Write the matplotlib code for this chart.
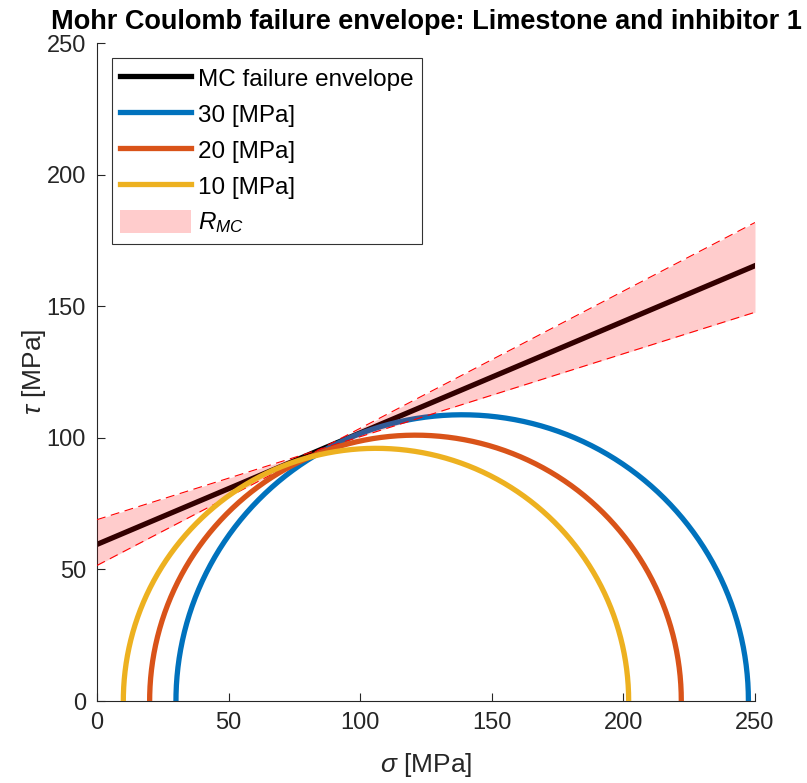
import numpy as np
import matplotlib
matplotlib.use("Agg")
import matplotlib.pyplot as plt

plt.rcParams['font.family'] = ['Liberation Sans', 'DejaVu Sans']
plt.rcParams['mathtext.fontset'] = 'custom'
plt.rcParams['mathtext.it'] = 'Liberation Sans:italic'
plt.rcParams['mathtext.rm'] = 'Liberation Sans'

# Mohr circles (confining pressure, failure stress) [MPa]
sigma3 = [30, 20, 10]
sigma1 = [247.5, 222, 202]
labels = ["30 [MPa]", "20 [MPa]", "10 [MPa]"]
colors = ["#0072BD", "#D95319", "#EDB120"]

# MC envelope: cohesion and slope, plus the two bounding fits
c_mid, slope_mid = 59.5, 0.4236
c_a, slope_a = 68.9, 0.3152
c_b, slope_b = 51.5, 0.5212
sig_range = [0, 250]

fig = plt.figure(figsize=(8.07, 7.83), dpi=100)
ax = fig.add_axes([97/807, 1-701/783, 658/807, 658/783])

s = np.linspace(sig_range[0], sig_range[1], 400)
lw = 3.8
ax.plot(s, c_mid + slope_mid*s, color='k', lw=lw, label='MC failure envelope', zorder=2)

theta = np.linspace(0, np.pi, 400)
for i, (s3, s1) in enumerate(zip(sigma3, sigma1)):
    cen = (s1 + s3)/2
    r = (s1 - s3)/2
    z = 2 if i == 0 else 4
    ax.plot(cen + r*np.cos(theta), r*np.sin(theta), color=colors[i], lw=lw,
            label=labels[i], zorder=z)

ya = c_a + slope_a*s
yb = c_b + slope_b*s
ax.fill_between(s, np.minimum(ya, yb), np.maximum(ya, yb), color='red', alpha=0.2,
                lw=0, label=r'$R_{MC}$', zorder=3)
ax.plot(s, ya, color='red', lw=0.8, ls=(0, (8, 5)), zorder=3)
ax.plot(s, yb, color='red', lw=0.8, ls=(0, (8, 5)), zorder=3)

ax.set_xlim(0, 250)
ax.set_ylim(0, 250)
ax.set_xticks([0, 50, 100, 150, 200, 250])
ax.set_yticks([0, 50, 100, 150, 200, 250])
for sp in ['top', 'right']:
    ax.spines[sp].set_visible(False)
for sp in ['left', 'bottom']:
    ax.spines[sp].set_color('#262626')
    ax.spines[sp].set_linewidth(0.8)
ax.tick_params(direction='in', length=6, width=0.8, colors='#262626',
               labelsize=17, pad=8)

ax.set_xlabel(r'$\sigma$ [MPa]', fontsize=19, color='#262626', labelpad=12)
ax.set_ylabel(r'$\tau$ [MPa]', fontsize=19, color='#262626', labelpad=-1)
ax.set_title('Mohr Coulomb failure envelope: Limestone and inhibitor 1',
             fontsize=19.5, fontweight='bold', pad=10)

leg = ax.legend(loc='upper left', fontsize=17.5, frameon=True, fancybox=False,
                edgecolor='k', handlelength=2.9, handleheight=1.1,
                borderaxespad=0.6, labelspacing=0.45, handletextpad=0.3,
                borderpad=0.35)
leg.get_frame().set_linewidth(0.8)

fig.savefig('out.png', dpi=100)
